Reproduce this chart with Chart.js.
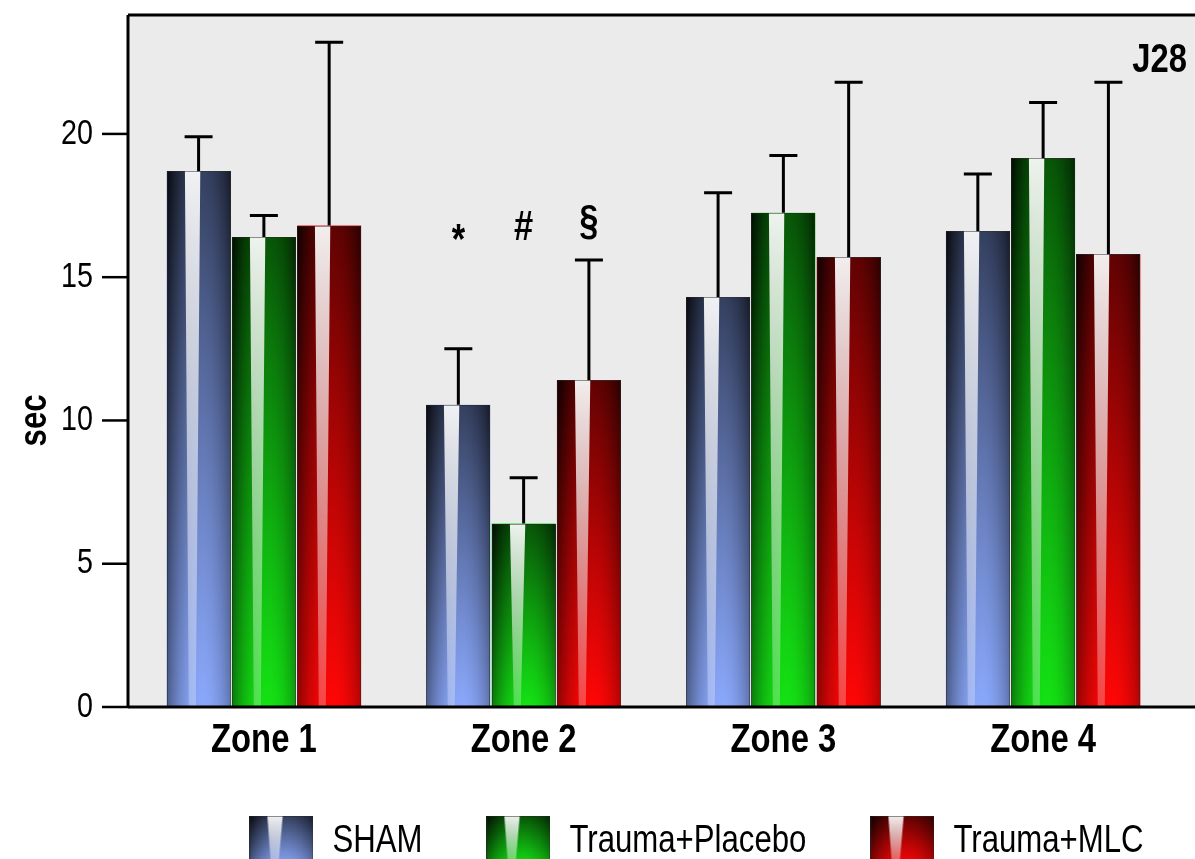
<!DOCTYPE html>
<html>
<head>
    <title>Time in zones - J28</title>
    <script src="https://cdn.jsdelivr.net/npm/chart.js"></script>
    <style>
        body { margin: 0; background: #fff; }
    </style>
</head>
<body>
    <canvas id="zoneChart" width="1195" height="859"></canvas>

    <script>
        // values (sec): mean and upper error bar
        const zones = ['Zone 1', 'Zone 2', 'Zone 3', 'Zone 4'];
        const groupNames = ['SHAM', 'Trauma+Placebo', 'Trauma+MLC'];
        const shamMean = [18.7, 10.55, 14.3, 16.6];
        const shamErr = [1.2, 1.95, 3.65, 2.0];
        const placeboMean = [16.4, 6.4, 17.25, 19.15];
        const placeboErr = [0.75, 1.6, 2.0, 1.95];
        const mlcMean = [16.8, 11.4, 15.7, 15.8];
        const mlcErr = [6.4, 4.2, 6.1, 6.0];
        // significance marks above the bars
        const shamMarks = ['', '*', '', ''];
        const placeboMarks = ['', '#', '', ''];
        const mlcMarks = ['', '§', '', ''];
        const markLevel = 16.3;
        const yTicks = [0, 5, 10, 15, 20];
        const yMax = 24.15;
        const dayLabel = 'J28';
        const axisTitle = 'sec';
        const axisTitleLevel = 10;

        const fontFamily = '"Liberation Sans", Arial, sans-serif';
        const condense = 0.82;   // Arial -> Arial Narrow width
        const baseColors = ['#8aa8fb', '#14e214', '#ff0606'];

        // squeeze all text horizontally on this canvas (narrow face look)
        function narrowText(ctx) {
            const fill = ctx.fillText.bind(ctx);
            const measure = ctx.measureText.bind(ctx);
            ctx.fillText = function (text, x, y) {
                ctx.save();
                ctx.translate(x, y);
                ctx.scale(condense, 1);
                fill(text, 0, 0);
                ctx.restore();
            };
            ctx.measureText = function (text) {
                const m = measure(text);
                return {
                    width: m.width * condense,
                    actualBoundingBoxAscent: m.actualBoundingBoxAscent,
                    actualBoundingBoxDescent: m.actualBoundingBoxDescent,
                    actualBoundingBoxLeft: m.actualBoundingBoxLeft * condense,
                    actualBoundingBoxRight: m.actualBoundingBoxRight * condense
                };
            };
        }

        // glossy shading laid over a filled bar rectangle
        function shadeBar(ctx, x0, y0, w, h) {
            x0 = Math.round(x0);
            const y1 = Math.round(y0 + h);
            y0 = Math.round(y0);
            w = Math.round(w);
            h = y1 - y0;
            const step = 2;
            for (let yy = 0; yy < h; yy += step) {
                const t = Math.min(1, (yy + step / 2) / h);
                const hh = Math.min(step, h - yy);
                const dark = 0.62 * Math.pow(1 - t, 1.1);
                const edge = 0.95 - 0.5 * t;
                const g = ctx.createLinearGradient(x0, 0, x0 + w, 0);
                for (let k = 0; k <= 10; k++) {
                    const u = k / 10;
                    const s = Math.pow(Math.abs(u - 0.55) / 0.55, 2);
                    const a = Math.max(0, Math.min(1, dark + (edge - dark) * s));
                    g.addColorStop(u, 'rgba(0,0,0,' + a.toFixed(3) + ')');
                }
                ctx.fillStyle = g;
                ctx.fillRect(x0, y0 + yy, w, hh);
                // white highlight stripe, narrowing downwards
                const sl = 0.28 + 0.06 * t;
                const sr = 0.52 - 0.07 * t;
                const sa = 0.93 - 0.68 * t;
                ctx.fillStyle = 'rgba(255,255,255,' + sa.toFixed(3) + ')';
                ctx.fillRect(x0 + sl * w, y0 + yy, (sr - sl) * w, hh);
            }
            ctx.strokeStyle = 'rgba(40,40,40,0.5)';
            ctx.lineWidth = 1;
            ctx.strokeRect(x0 + 0.5, y0 + 0.5, w - 1, h - 1);
        }

        function legendIcon(color) {
            const c = document.createElement('canvas');
            c.width = 64;
            c.height = 52;
            const cx = c.getContext('2d');
            cx.fillStyle = color;
            cx.fillRect(0, 0, 64, 52);
            shadeBar(cx, 0, 0, 64, 52);
            return c;
        }
        const icons = baseColors.map(legendIcon);

        const means = [shamMean, placeboMean, mlcMean];
        const errs = [shamErr, placeboErr, mlcErr];
        const marks = [shamMarks, placeboMarks, mlcMarks];

        const barPlugin = {
            id: 'barPlugin',
            afterLayout(chart) {
                // the legend sits right of centre in the figure
                const lg = chart.legend;
                lg.left += 110;
                lg.right += 110;
            },
            beforeDraw(chart) {
                const { ctx, chartArea: a } = chart;
                const left = a.left - 6;
                ctx.save();
                ctx.fillStyle = '#ebebeb';
                ctx.fillRect(left, a.top, chart.width - left, a.bottom - a.top);
                ctx.restore();
            },
            afterDatasetsDraw(chart) {
                const ctx = chart.ctx;
                const yScale = chart.scales.y;
                ctx.save();
                chart.data.datasets.forEach((ds, i) => {
                    chart.getDatasetMeta(i).data.forEach(bar => {
                        shadeBar(ctx, bar.x - bar.width / 2, bar.y, bar.width, bar.base - bar.y);
                    });
                });
                // error bars (upper only)
                ctx.strokeStyle = '#000';
                ctx.lineWidth = 3;
                chart.data.datasets.forEach((ds, i) => {
                    chart.getDatasetMeta(i).data.forEach((bar, j) => {
                        const yc = yScale.getPixelForValue(means[i][j] + errs[i][j]);
                        ctx.beginPath();
                        ctx.moveTo(bar.x, bar.y);
                        ctx.lineTo(bar.x, yc);
                        ctx.moveTo(bar.x - 14, yc);
                        ctx.lineTo(bar.x + 14, yc);
                        ctx.stroke();
                    });
                });
                // significance marks, glyph bottoms on one line
                ctx.fillStyle = '#000';
                ctx.font = 'bold 42px ' + fontFamily;
                ctx.textAlign = 'center';
                ctx.textBaseline = 'alphabetic';
                const ym = yScale.getPixelForValue(markLevel);
                chart.data.datasets.forEach((ds, i) => {
                    chart.getDatasetMeta(i).data.forEach((bar, j) => {
                        const m = marks[i][j];
                        if (!m) return;
                        const desc = ctx.measureText(m).actualBoundingBoxDescent;
                        ctx.fillText(m, bar.x, ym - desc);
                    });
                });
                ctx.restore();
            },
            afterDraw(chart) {
                const { ctx, chartArea: a } = chart;
                const yScale = chart.scales.y;
                const ax = a.left - 6;
                ctx.save();
                ctx.strokeStyle = '#000';
                ctx.lineWidth = 3;
                ctx.beginPath();
                ctx.moveTo(ax, a.top);
                ctx.lineTo(chart.width, a.top);
                ctx.moveTo(ax, a.top);
                ctx.lineTo(ax, a.bottom);
                ctx.moveTo(ax, a.bottom);
                ctx.lineTo(chart.width, a.bottom);
                ctx.stroke();
                // y tick marks
                ctx.lineWidth = 2.5;
                yScale.ticks.forEach(t => {
                    const y = yScale.getPixelForValue(t.value);
                    ctx.beginPath();
                    ctx.moveTo(ax - 26, y);
                    ctx.lineTo(ax, y);
                    ctx.stroke();
                });
                ctx.fillStyle = '#000';
                // y axis title
                ctx.save();
                ctx.font = 'bold 38px ' + fontFamily;
                ctx.textAlign = 'center';
                ctx.textBaseline = 'middle';
                ctx.translate(36, yScale.getPixelForValue(axisTitleLevel));
                ctx.rotate(-Math.PI / 2);
                ctx.fillText(axisTitle, 0, 0);
                ctx.restore();
                // day label in the corner
                ctx.font = 'bold 40px ' + fontFamily;
                ctx.textAlign = 'right';
                ctx.textBaseline = 'alphabetic';
                ctx.fillText(dayLabel, chart.width - 8, a.top + 57);
                ctx.restore();
            }
        };

        Chart.defaults.font.family = fontFamily;
        Chart.defaults.color = '#000';

        const canvas = document.getElementById('zoneChart');
        narrowText(canvas.getContext('2d'));

        const zoneChart = new Chart(canvas, {
            type: 'bar',
            data: {
                labels: zones,
                datasets: groupNames.map((name, i) => ({
                    label: name,
                    data: means[i],
                    backgroundColor: baseColors[i],
                    borderWidth: 0,
                    categoryPercentage: 0.754,
                    barPercentage: 0.98
                }))
            },
            options: {
                responsive: false,
                animation: false,
                // legend runs off the bottom edge like in the figure
                layout: { padding: { top: 15, right: 22, left: 0, bottom: -12 } },
                plugins: {
                    tooltip: { enabled: false },
                    legend: {
                        position: 'bottom',
                        labels: {
                            usePointStyle: true,
                            pointStyleWidth: 64,
                            padding: 64,
                            color: '#000',
                            font: { size: 38 },
                            generateLabels: () => groupNames.map((name, i) => ({
                                text: name,
                                pointStyle: icons[i],
                                fillStyle: baseColors[i],
                                lineWidth: 0,
                                hidden: false,
                                datasetIndex: i
                            }))
                        }
                    }
                },
                scales: {
                    x: {
                        grid: { display: false, drawTicks: false },
                        border: { display: false },
                        ticks: { font: { size: 40, weight: 'bold' }, padding: 10, color: '#000' },
                        afterFit: (scale) => { scale.height = 52; }
                    },
                    y: {
                        min: 0,
                        max: yMax,
                        grid: { display: false, drawTicks: false },
                        border: { display: false },
                        afterBuildTicks: (scale) => { scale.ticks = yTicks.map(v => ({ value: v })); },
                        ticks: { font: { size: 35 }, padding: 41, color: '#000' },
                        afterFit: (scale) => {
                            scale.width = 134;
                            scale.paddingTop = 0;
                            scale.paddingBottom = 0;
                        }
                    }
                }
            },
            plugins: [barPlugin]
        });
    </script>
</body>
</html>
